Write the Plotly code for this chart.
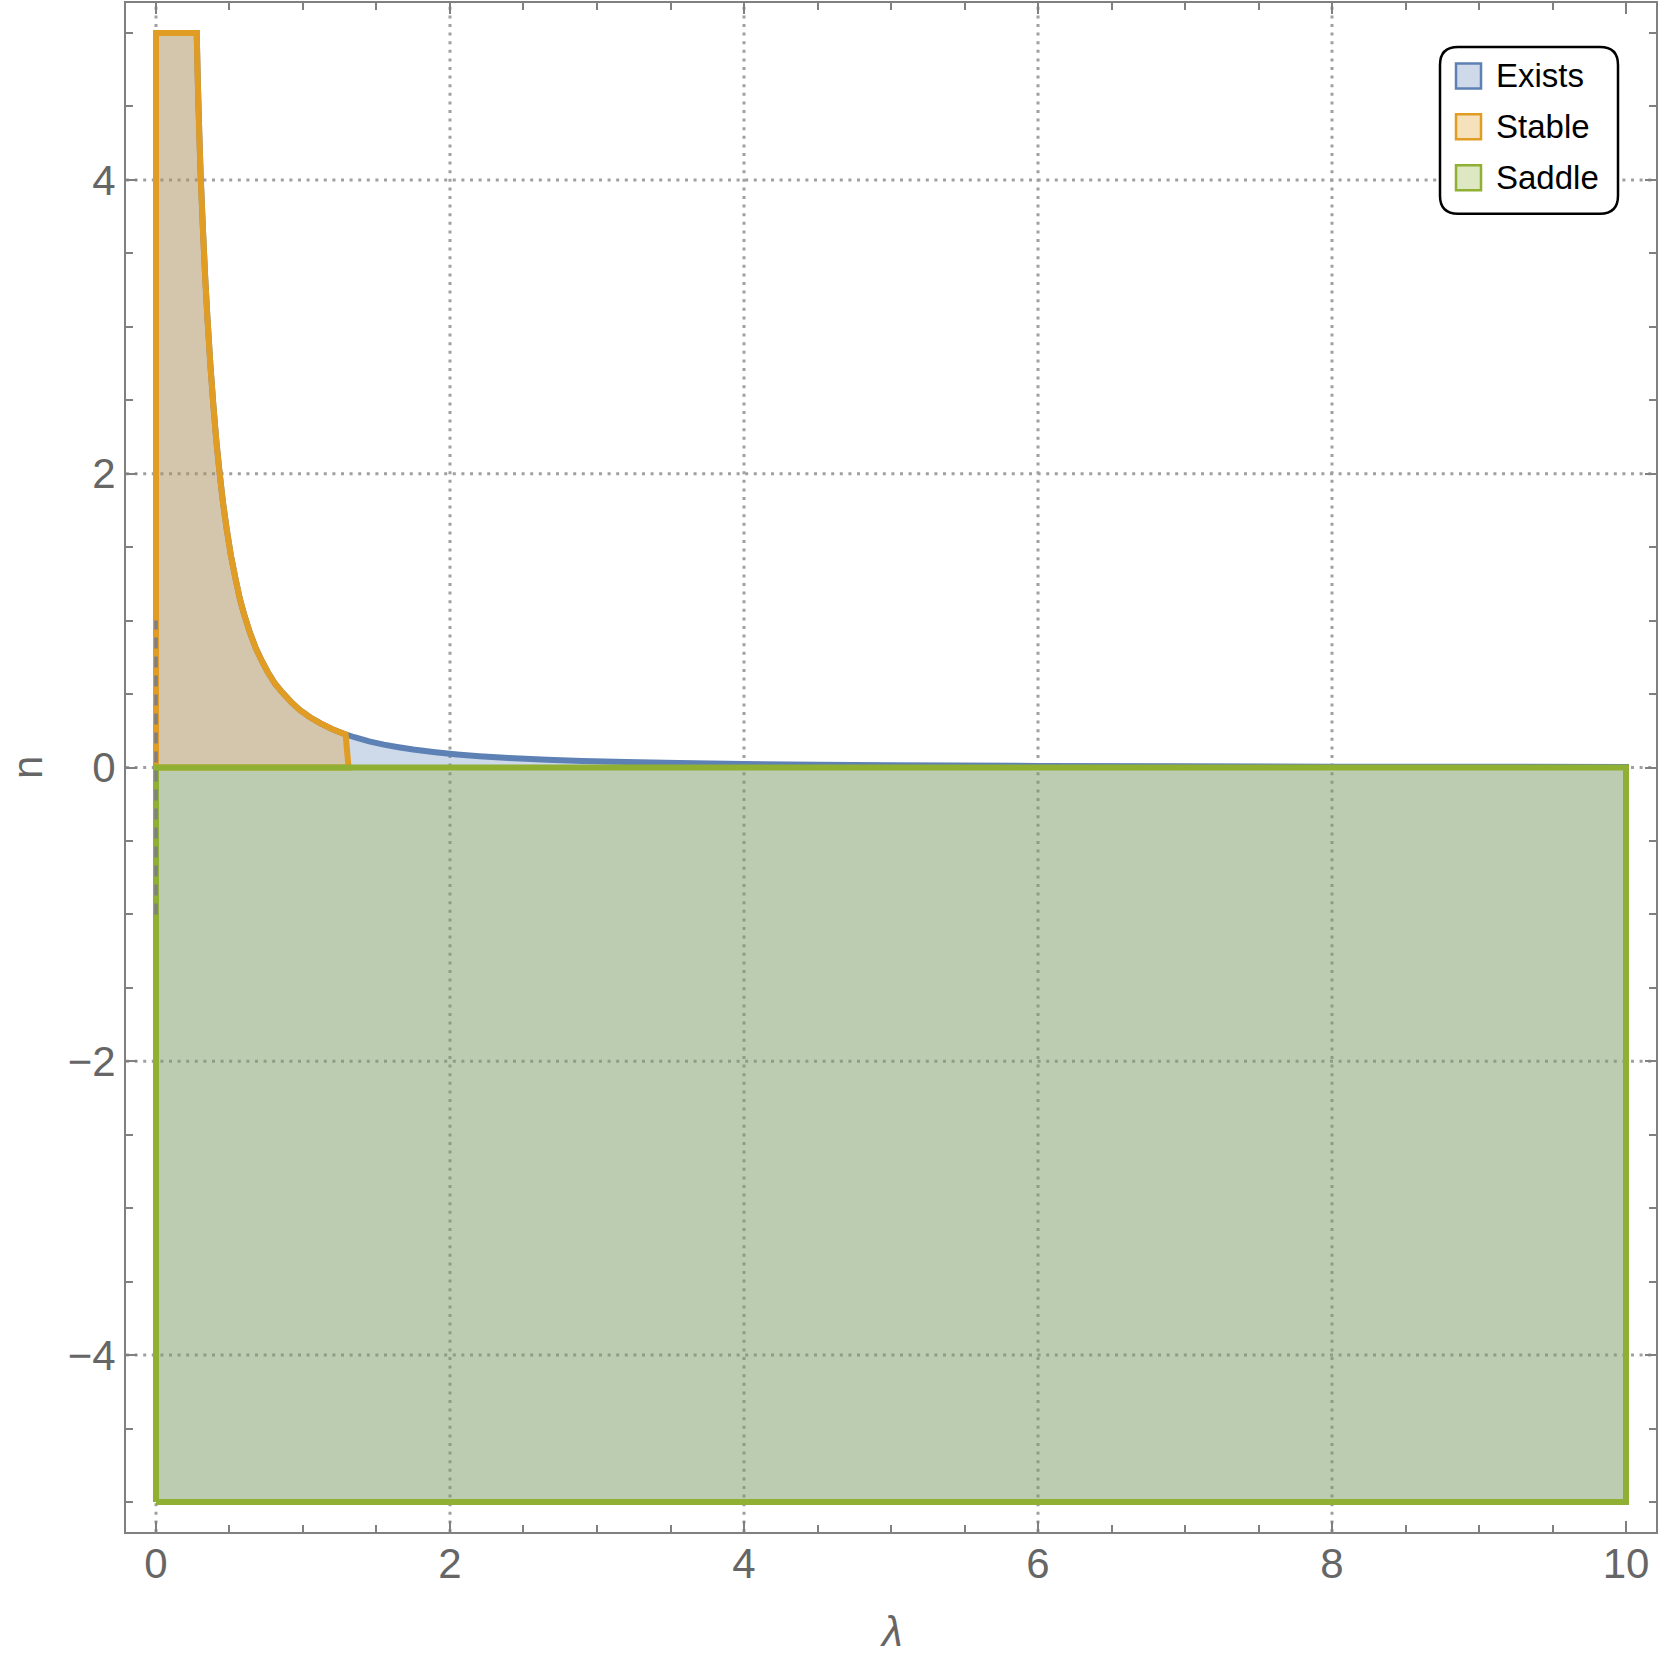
import plotly.graph_objects as go

# boundary of the "exists" region (lambda, n)
lam_curve = [0.277, 0.285, 0.295, 0.305, 0.32, 0.335, 0.35, 0.37, 0.39, 0.41, 0.43, 0.455,
             0.48, 0.51, 0.54, 0.57, 0.60, 0.64, 0.68, 0.72, 0.76, 0.81, 0.86, 0.92,
             0.98, 1.05, 1.12, 1.20, 1.29]
n_curve = [5.0, 4.65, 4.3, 4.0, 3.65, 3.33, 3.06, 2.74, 2.47, 2.23, 2.03, 1.81,
           1.63, 1.44, 1.29, 1.15, 1.04, 0.915, 0.81, 0.725, 0.65, 0.57, 0.51, 0.445,
           0.39, 0.34, 0.30, 0.26, 0.225]
lam_tail = [1.35, 1.45, 1.55, 1.65, 1.75, 1.9, 2.05, 2.2, 2.4, 2.66, 2.9, 3.2, 3.56, 4.0,
            4.5, 5.0, 6.0, 7.0, 8.0, 9.0, 10.0]
n_tail = [0.206, 0.178, 0.156, 0.138, 0.122, 0.104, 0.089, 0.077, 0.065, 0.053, 0.045,
          0.037, 0.030, 0.024, 0.019, 0.015, 0.0105, 0.0077, 0.0059, 0.0046, 0.0038]
stable_corner = (1.31, 0.0)

lam_min, lam_max = 0.0, 10.0
n_min, n_max = -5.0, 5.0
dash_segment = [-1.0, 1.0]

x_ticks = [0, 2, 4, 6, 8, 10]
y_ticks = [-4, -2, 0, 2, 4]
x_grid = [0, 2, 4, 6, 8]
y_grid = [-4, -2, 0, 2, 4]

legend_names = ["Exists", "Stable", "Saddle"]

BLUE = "#5E81B5"
ORANGE = "#E19C24"
GREEN = "#8FB032"
FILL = {"Exists": "rgba(94,129,181,0.3)", "Stable": "rgba(225,156,36,0.3)",
        "Saddle": "rgba(143,176,50,0.3)"}
LINE = {"Exists": BLUE, "Stable": ORANGE, "Saddle": GREEN}
AX = "#808080"
TXT = "#666666"
GRID = "#a0a0a0"

W, H = 1661, 1658
L, R, T, B = 126, 5, 1, 126
pw, ph = W - L - R, H - T - B


def px(x):
    return (x - L) / pw


def py(y):
    return (H - B - y) / ph


fig = go.Figure()

# exists region: everything under the curve down to n = -5
ex_x = [lam_min, lam_min] + lam_curve + lam_tail + [lam_max, lam_min]
ex_y = [n_min, n_max] + n_curve + n_tail + [n_min, n_min]
fig.add_trace(go.Scatter(x=ex_x, y=ex_y, fill="toself", fillcolor=FILL["Exists"],
                         mode="lines", line=dict(color=BLUE, width=6, simplify=False),
                         name="Exists"))

st_x = [lam_min, lam_min] + lam_curve + [stable_corner[0], lam_min]
st_y = [0.0, n_max] + n_curve + [stable_corner[1], 0.0]
fig.add_trace(go.Scatter(x=st_x, y=st_y, fill="toself", fillcolor=FILL["Stable"],
                         mode="lines", line=dict(color=ORANGE, width=6, simplify=False),
                         name="Stable"))

sd_x = [lam_min, lam_min, lam_max, lam_max, lam_min]
sd_y = [n_min, 0.0, 0.0, n_min, n_min]
fig.add_trace(go.Scatter(x=sd_x, y=sd_y, fill="toself", fillcolor=FILL["Saddle"],
                         mode="lines", line=dict(color=GREEN, width=6), name="Saddle"))

fig.add_trace(go.Scatter(x=[lam_min, lam_min], y=dash_segment, mode="lines",
                         line=dict(color="#7f7f85", width=3.5, dash="11px,8px"),
                         showlegend=False))

shapes = []
for gx in x_grid:
    shapes.append(dict(type="line", xref="x", yref="paper", x0=gx, x1=gx, y0=0, y1=1,
                       layer="below", line=dict(color=GRID, width=3, dash="3px,5.6px")))
for gy in y_grid:
    shapes.append(dict(type="line", xref="paper", yref="y", x0=0, x1=1, y0=gy, y1=gy,
                       layer="below", line=dict(color=GRID, width=3, dash="3px,5.6px")))

# legend box with rounded corners
bx0, bx1, by0, by1, rad = 1440, 1618, 45, 212, 18
path = (f"M {px(bx0 + rad)},{py(by0)} L {px(bx1 - rad)},{py(by0)} "
        f"Q {px(bx1)},{py(by0)} {px(bx1)},{py(by0 + rad)} L {px(bx1)},{py(by1 - rad)} "
        f"Q {px(bx1)},{py(by1)} {px(bx1 - rad)},{py(by1)} L {px(bx0 + rad)},{py(by1)} "
        f"Q {px(bx0)},{py(by1)} {px(bx0)},{py(by1 - rad)} L {px(bx0)},{py(by0 + rad)} "
        f"Q {px(bx0)},{py(by0)} {px(bx0 + rad)},{py(by0)} Z")
shapes.append(dict(type="path", xref="paper", yref="paper", path=path, fillcolor="white",
                   line=dict(color="black", width=2.5), layer="above"))

annotations = []
for i, name in enumerate(legend_names):
    cy = 74 + 51 * i
    shapes.append(dict(type="rect", xref="paper", yref="paper",
                       x0=px(1456), x1=px(1481), y0=py(cy + 12.5), y1=py(cy - 12.5),
                       fillcolor=FILL[name], line=dict(color=LINE[name], width=2.5),
                       layer="above"))
    annotations.append(dict(xref="paper", yref="paper", x=px(1494), y=py(cy), text=name,
                            showarrow=False, xanchor="left", yanchor="middle",
                            font=dict(size=33, color="black", family="Liberation Sans")))

annotations.append(dict(xref="paper", yref="paper", x=px(891), y=py(1632), text="λ",
                        showarrow=False, xanchor="center", yanchor="middle",
                        font=dict(size=42, color=TXT, family="Liberation Sans, Arial",
                                  style="italic")))
annotations.append(dict(xref="paper", yref="paper", x=px(28), y=py(767), text="n",
                        showarrow=False, xanchor="center", yanchor="middle", textangle=-90,
                        font=dict(size=42, color=TXT, family="Liberation Sans, Arial")))

axis_common = dict(ticks="inside", ticklen=11, tickwidth=2, tickcolor=AX,
                   showline=True, linecolor=AX, linewidth=2, mirror="allticks",
                   showgrid=False, zeroline=False,
                   tickfont=dict(size=42, color=TXT, family="Liberation Sans, Arial"),
                   minor=dict(ticks="inside", ticklen=7, tickwidth=2, tickcolor=AX,
                              dtick=0.5, tick0=0, showgrid=False))

fig.update_layout(
    width=W, height=H, autosize=False,
    margin=dict(l=L, r=R, t=T, b=B),
    plot_bgcolor="white", paper_bgcolor="white",
    showlegend=False,
    xaxis=dict(range=[-0.204, 10.204], tickvals=x_ticks, ticklabelstandoff=-6, **axis_common),
    yaxis=dict(range=[-5.204, 5.204], tickvals=y_ticks, ticklabelstandoff=0, **axis_common),
    shapes=shapes,
    annotations=annotations,
)

fig.write_html("out.html", config={"displayModeBar": False},
               post_script="document.body.style.margin='0';")
